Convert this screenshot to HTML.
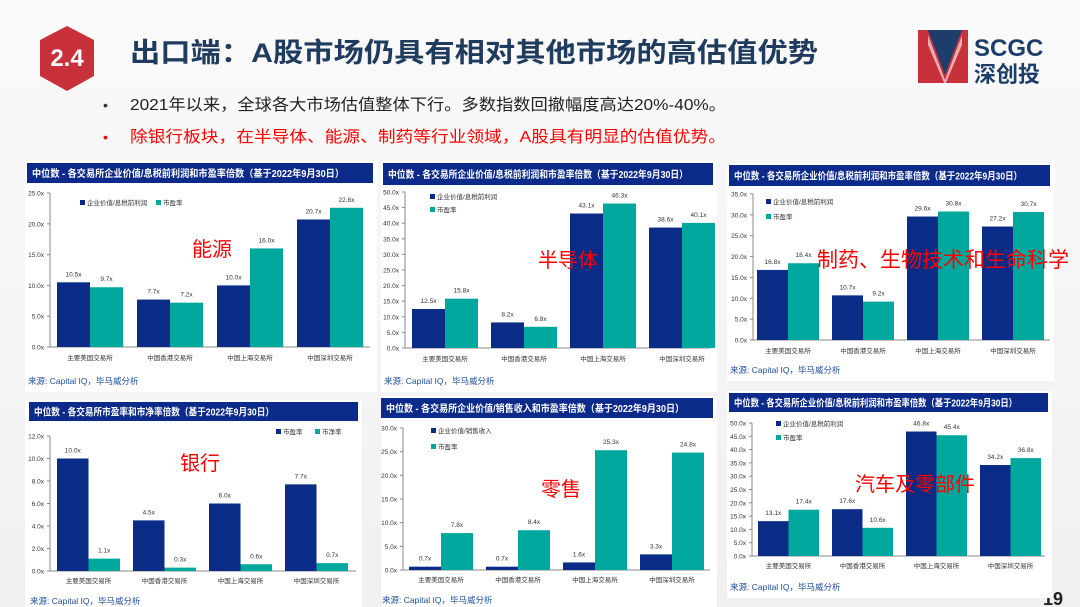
<!DOCTYPE html>
<html><head><meta charset="utf-8"><style>
body{margin:0;width:1080px;height:607px;overflow:hidden;background:linear-gradient(180deg,#fafafa,#f0f0f0);font-family:"Liberation Sans","Noto Sans CJK SC",sans-serif;position:relative}
</style></head><body>
<svg width="1080" height="607" style="position:absolute;left:0;top:0" id="s">
<polygon points="67,26 94,40 94,76 67,91 40,76 40,40" fill="#c8303a"/>
<text x="67" y="66" text-anchor="middle" fill="#fff" font-size="24" font-weight="bold" font-family="Liberation Sans,sans-serif">2.4</text>
<text x="130" y="62" fill="#1f3b5e" font-size="27" font-weight="bold" textLength="688" lengthAdjust="spacingAndGlyphs" font-family="Liberation Sans,Noto Sans CJK SC,sans-serif">出口端：A股市场仍具有相对其他市场的高估值优势</text>
<polygon points="918,30 968,30 945,80" fill="#1d3e6a"/>
<polygon points="918,30 928,30 945,75 962,30 968,30 968,83 918,83" fill="#c8303a"/>
<polygon points="928,35 945,80 962,35 962,45 945,85 928,45" fill="#fff" opacity="0.6"/>
<text x="974" y="56" fill="#1d3e6a" font-size="24" font-weight="bold" font-family="Liberation Sans,sans-serif">SCGC</text>
<text x="974" y="82" fill="#1d3e6a" font-size="22" font-weight="bold" font-family="Liberation Sans,Noto Sans CJK SC,sans-serif">深创投</text>
<text x="103" y="110" fill="#333" font-size="14">•</text>
<text x="130" y="110" fill="#222" font-size="16" textLength="596" lengthAdjust="spacingAndGlyphs" font-family="Liberation Sans,Noto Sans CJK SC,sans-serif">2021年以来，全球各大市场估值整体下行。多数指数回撤幅度高达20%-40%。</text>
<text x="103" y="142" fill="#f00" font-size="14">•</text>
<text x="130" y="142" fill="#f00" font-size="16" textLength="596" lengthAdjust="spacingAndGlyphs" font-family="Liberation Sans,Noto Sans CJK SC,sans-serif">除银行板块，在半导体、能源、制药等行业领域，A股具有明显的估值优势。</text>
<text x="1043" y="605" fill="#222" font-size="18" font-weight="bold">19</text>
</svg>
<script>
var NS="http://www.w3.org/2000/svg",s=document.getElementById('s');
function el(t,a,txt){var e=document.createElementNS(NS,t);for(var k in a)e.setAttribute(k,a[k]);if(txt!=null)e.textContent=txt;s.appendChild(e);return e;}
var F='Liberation Sans,Noto Sans CJK SC,sans-serif';
var cats=['主要美国交易所','中国香港交易所','中国上海交易所','中国深圳交易所'];
var B='#0a2b86',T='#00a79d';
function chart(c){
 el('rect',{x:c.px,y:c.hy-2,width:c.hx2-c.px+4,height:c.src-c.hy+10,fill:'#fff'});
 el('rect',{x:c.hx,y:c.hy,width:c.hx2-c.hx,height:c.hh,fill:'#0b2a8a'});
 el('text',{x:c.hx+5,y:c.hy+c.hh/2+4,fill:'#fff','font-size':10,'font-weight':'bold','font-family':F,textLength:c.tl,lengthAdjust:'spacingAndGlyphs'},c.title);
 var h=c.y0-c.ytop;
 el('line',{x1:c.ax,y1:c.ytop,x2:c.ax,y2:c.y0,stroke:'#888','stroke-width':1});
 el('line',{x1:c.ax,y1:c.y0,x2:c.aend,y2:c.y0,stroke:'#888','stroke-width':1});
 for(var v=0;v<=c.max+1e-9;v+=c.step){var y=c.y0-v/c.max*h;
  el('line',{x1:c.ax-3,y1:y,x2:c.ax,y2:y,stroke:'#888'});
  el('text',{x:c.ax-6,y:y+2.5,'text-anchor':'end','font-size':6.5,fill:'#333','font-family':F},v.toFixed(1)+'x');}
 for(var i=0;i<4;i++){var x=c.g1+i*c.p;
  [[c.a[i],B,x],[c.b[i],T,x+c.w]].forEach(function(d){var y=c.y0-d[0]/c.max*h;
   el('rect',{x:d[2],y:y,width:c.w,height:c.y0-y,fill:d[1]});
   el('text',{x:d[2]+c.w/2,y:y-6,'text-anchor':'middle','font-size':6.5,fill:'#333','font-family':F},d[0].toFixed(1)+'x');});
  el('text',{x:x+c.w,y:c.ly,'text-anchor':'middle','font-size':6.5,fill:'#333','font-family':F},cats[i]);}
 c.leg.forEach(function(l,j){el('rect',{x:l[0],y:l[1]-3,width:5,height:5,fill:j?T:B});
  el('text',{x:l[0]+7,y:l[1]+2,'font-size':6.5,fill:'#333','font-family':F},l[2]);});
 el('text',{x:c.hx+1,y:c.src,'font-size':8.5,fill:'#1f4e9a','font-family':F},'来源: Capital IQ，毕马威分析');
 el('text',{x:c.lx,y:c.lyy,'text-anchor':'middle','font-size':c.ls||20,fill:'#f00','font-family':F},c.lab);
}
var E='中位数 - 各交易所企业价值/息税前利润和市盈率倍数（基于2022年9月30日）';
chart({px:25,hx:27,hx2:373,hy:163,hh:20,title:E,tl:312,ax:50,ytop:193,y0:347,aend:370,max:25,step:5,g1:57,p:80,w:33,
 a:[10.5,7.7,10,20.7],b:[9.7,7.2,16,22.6],ly:360,leg:[[80,203,'企业价值/息税前利润'],[156,203,'市盈率']],src:384,lab:'能源',lx:212,lyy:256});
chart({px:381,hx:383,hx2:713,hy:163,hh:22,title:E,tl:300,ax:405,ytop:192,y0:348,aend:710,max:50,step:5,g1:412,p:79,w:33,
 a:[12.5,8.2,43.1,38.6],b:[15.8,6.8,46.3,40.1],ly:361,leg:[[430,197,'企业价值/息税前利润'],[430,210,'市盈率']],src:384,lab:'半导体',lx:568,lyy:267});
chart({px:727,hx:729,hx2:1050,hy:165,hh:21,title:E,tl:288,ax:753,ytop:194,y0:340,aend:1050,max:35,step:5,g1:757,p:75,w:31,
 a:[16.8,10.7,29.6,27.2],b:[18.4,9.2,30.8,30.7],ly:353,leg:[[766,202,'企业价值/息税前利润'],[766,217,'市盈率']],src:373,lab:'制药、生物技术和生命科学',lx:943,lyy:267,ls:21});
chart({px:25,hx:29,hx2:358,hy:402,hh:19,title:'中位数 - 各交易所市盈率和市净率倍数（基于2022年9月30日）',tl:240,ax:50,ytop:436,y0:571,aend:356,max:12,step:2,g1:57,p:76,w:31.5,
 a:[10,4.5,6,7.7],b:[1.1,0.3,0.6,0.7],ly:583,leg:[[276,432,'市盈率'],[315,432,'市净率']],src:604,lab:'银行',lx:200,lyy:470});
chart({px:381,hx:381,hx2:713,hy:398,hh:20,title:'中位数 - 各交易所企业价值/销售收入和市盈率倍数（基于2022年9月30日）',tl:298,ax:403,ytop:428,y0:570,aend:710,max:30,step:5,g1:409,p:77,w:32,
 a:[0.7,0.7,1.6,3.3],b:[7.8,8.4,25.3,24.8],ly:582,leg:[[431,431,'企业价值/销售收入'],[431,447,'市盈率']],src:603,lab:'零售',lx:561,lyy:496});
chart({px:727,hx:729,hx2:1048,hy:393,hh:19,title:E,tl:283,ax:752,ytop:423,y0:556,aend:1045,max:50,step:5,g1:758,p:74,w:30.5,
 a:[13.1,17.6,46.8,34.2],b:[17.4,10.6,45.4,36.8],ly:568,leg:[[776,424,'企业价值/息税前利润'],[776,438,'市盈率']],src:590,lab:'汽车及零部件',lx:915,lyy:491});
</script>
</body></html>
